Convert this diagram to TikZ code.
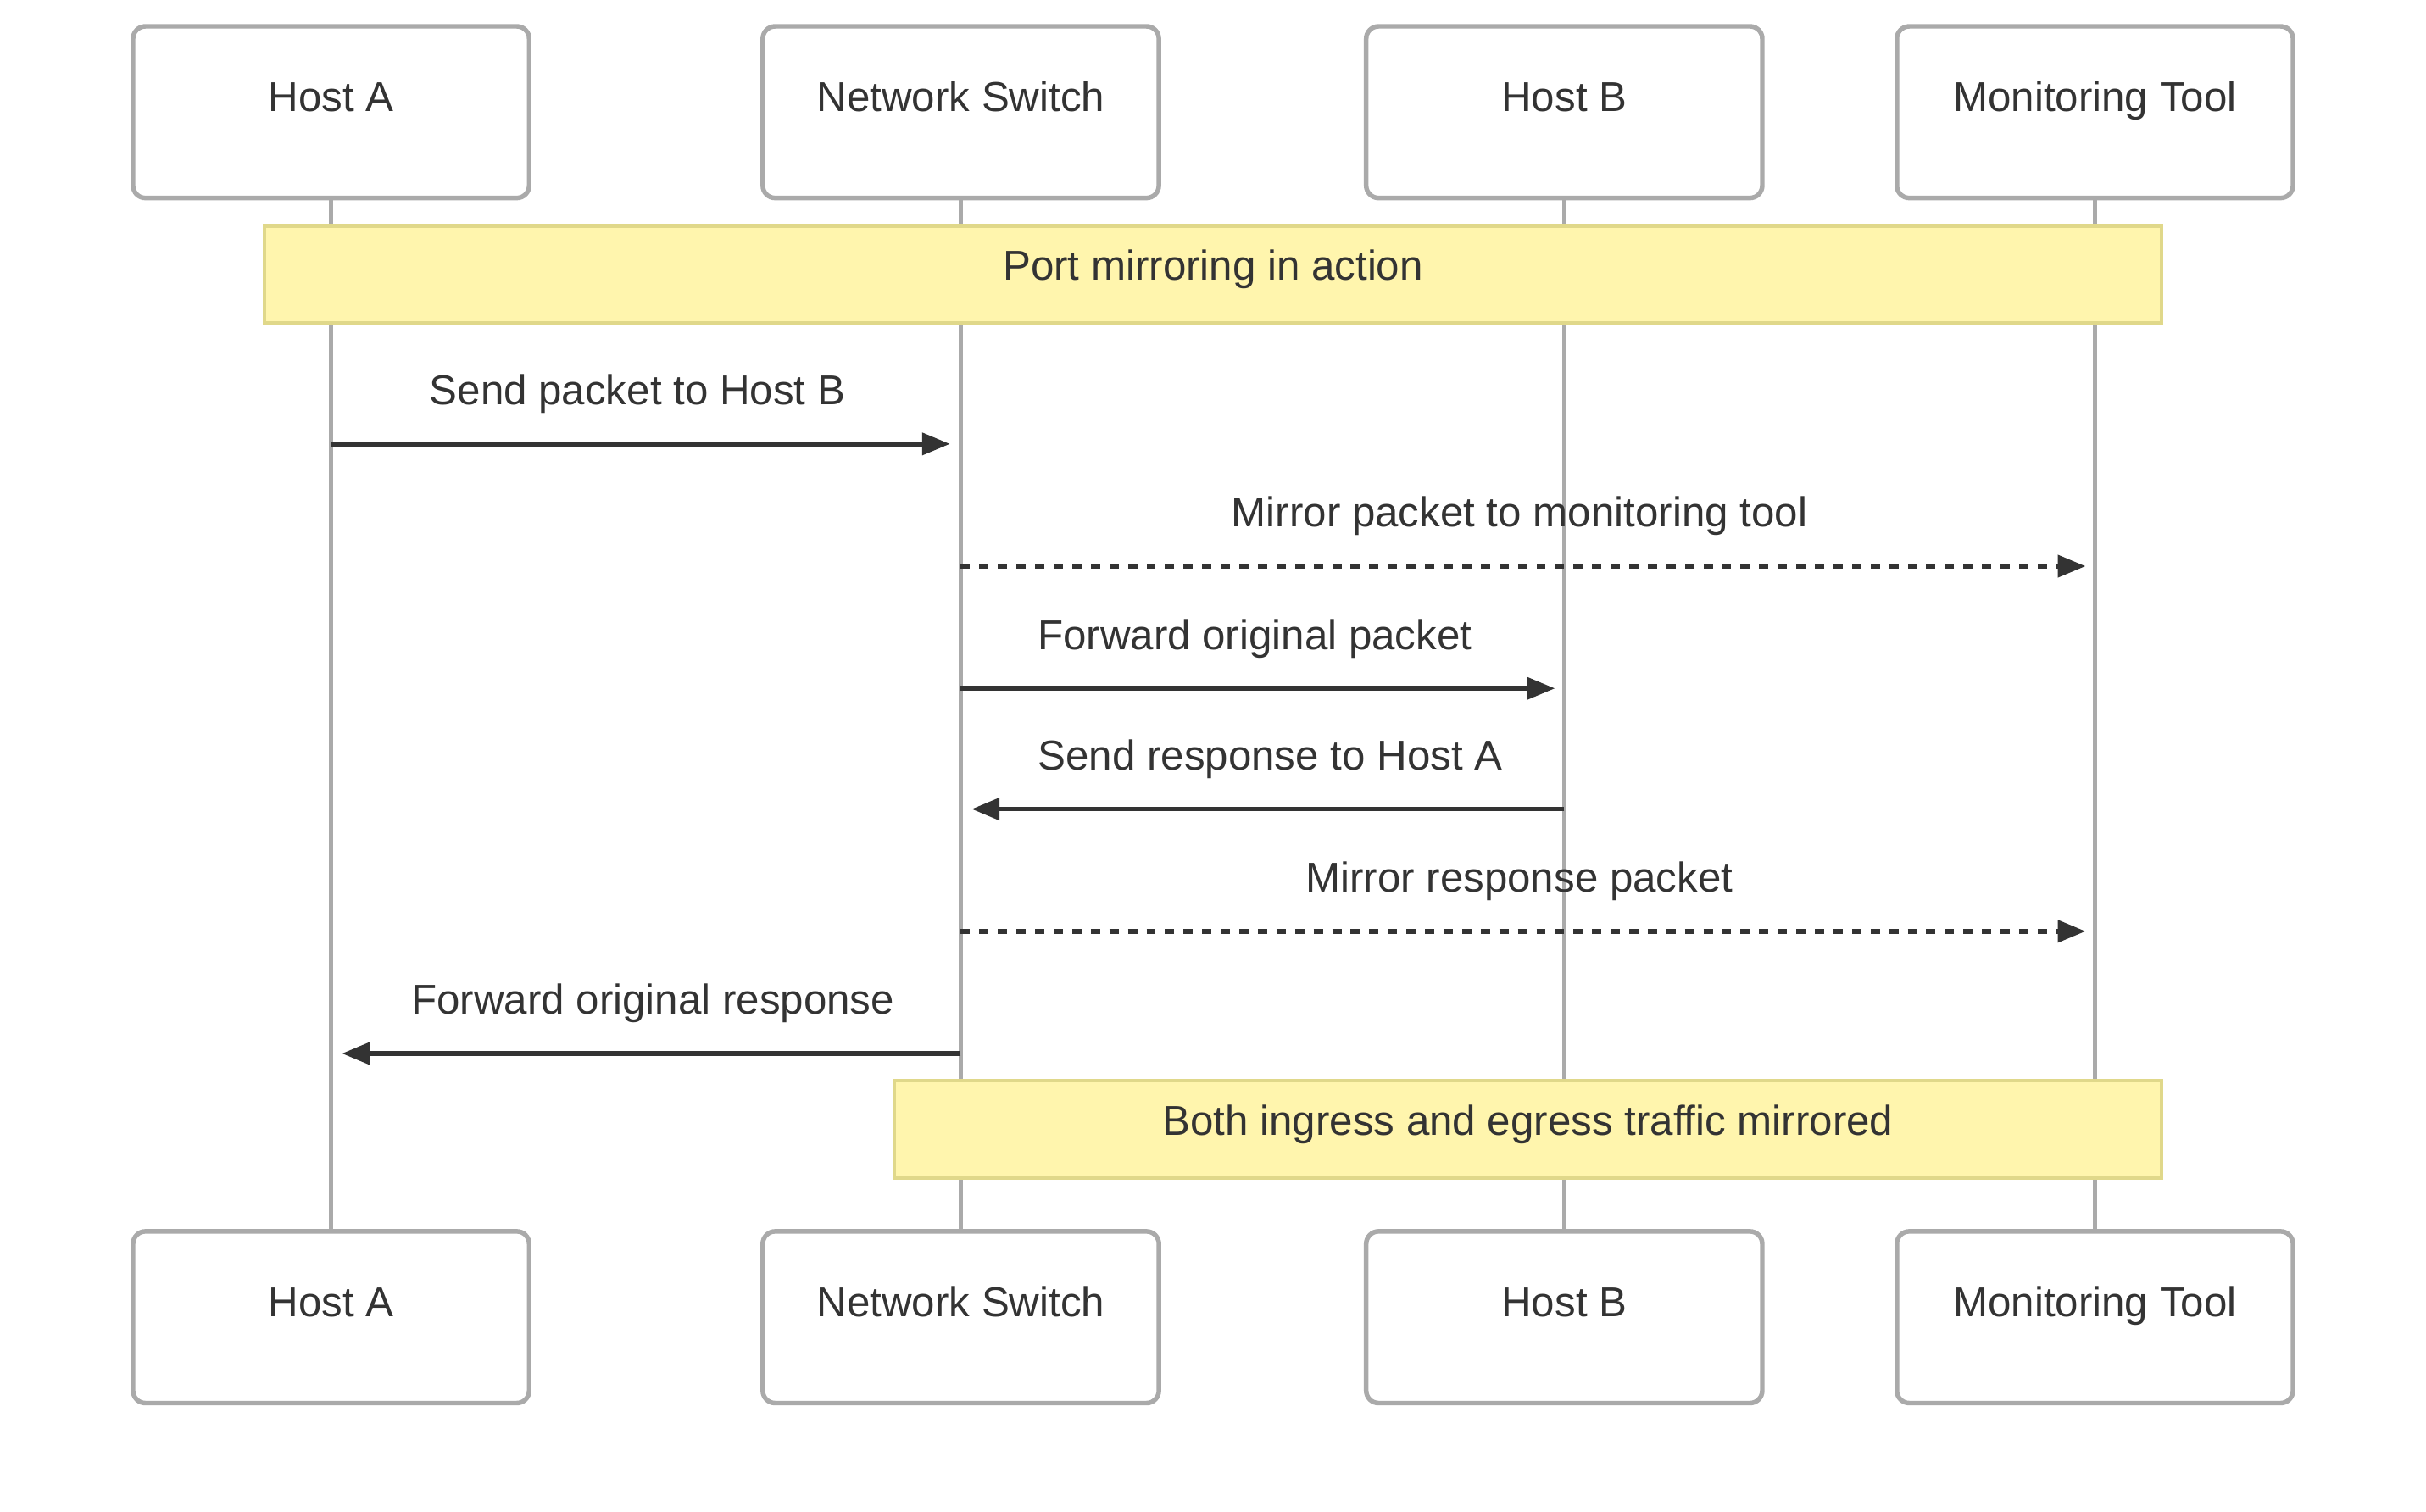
\documentclass[tikz,border=0pt]{standalone}
\usepackage{fontspec}
\setmainfont{Liberation Sans}
\usetikzlibrary{arrows.meta}
\definecolor{boxb}{HTML}{AAAAAA}
\definecolor{notef}{HTML}{FFF5AD}
\definecolor{noteb}{HTML}{E0D88A}
\definecolor{ink}{HTML}{333333}
\begin{document}
\begin{tikzpicture}[x=0.5pt,y=-0.5pt,
  lbl/.style={font=\fontsize{13.5}{15}\selectfont,text=ink,text height=9.8pt,text depth=2.6pt,inner sep=0pt},
  actor/.style={draw=boxb,line width=1.5pt,fill=white,rounded corners=4pt,minimum width=128pt,minimum height=55.5pt},
  life/.style={draw=boxb,line width=1.5pt},
  note/.style={draw=noteb,line width=1.2pt,fill=notef,minimum height=31.5pt,inner sep=0pt},
  msg/.style={draw=ink,line width=1.5pt,-{Triangle[length=9pt,width=7pt]}},
  dmsg/.style={msg,dash pattern=on 3pt off 3pt}]
\useasboundingbox (0,0) rectangle (1568,977);
\foreach \n/\x/\t in {a/214/Host A,s/621/Network Switch,b/1011/Host B,m/1354/Monitoring Tool}{
  \draw[life] (\x,128) -- (\x,796);
  \node[actor,label={[lbl,yshift=3.8pt]center:\t}] (\n1) at (\x,72.5) {};
  \node[actor,label={[lbl,yshift=3.8pt]center:\t}] (\n2) at (\x,851.5) {};
}
\node[note,minimum width=613pt,label={[lbl,yshift=1.8pt]center:Port mirroring in action}] (n1) at (784,177.5) {};
\node[note,minimum width=409.5pt,label={[lbl,yshift=1.8pt]center:Both ingress and egress traffic mirrored}] (n2) at (987.5,730) {};
\coordinate (p1s) at (214,287); \coordinate (p1e) at (614,287);
\coordinate (p2s) at (621,366); \coordinate (p2e) at (1348,366);
\coordinate (p3s) at (621,445); \coordinate (p3e) at (1005,445);
\coordinate (p4s) at (1011,523); \coordinate (p4e) at (628,523);
\coordinate (p5s) at (621,602); \coordinate (p5e) at (1348,602);
\coordinate (p6s) at (621,681); \coordinate (p6e) at (221,681);
\draw[msg] (p1s) -- (p1e);
\draw[dmsg] (p2s) -- (p2e);
\draw[msg] (p3s) -- (p3e);
\draw[msg] (p4s) -- (p4e);
\draw[dmsg] (p5s) -- (p5e);
\draw[msg] (p6s) -- (p6e);
\node[lbl] (l1) at (412,254.5) {Send packet to Host B};
\node[lbl] (l2) at (982,333.5) {Mirror packet to monitoring tool};
\node[lbl] (l3) at (811,412.5) {Forward original packet};
\node[lbl] (l4) at (821,490.5) {Send response to Host A};
\node[lbl] (l5) at (982,569.5) {Mirror response packet};
\node[lbl] (l6) at (422,648.5) {Forward original response};
\end{tikzpicture}
\end{document}
